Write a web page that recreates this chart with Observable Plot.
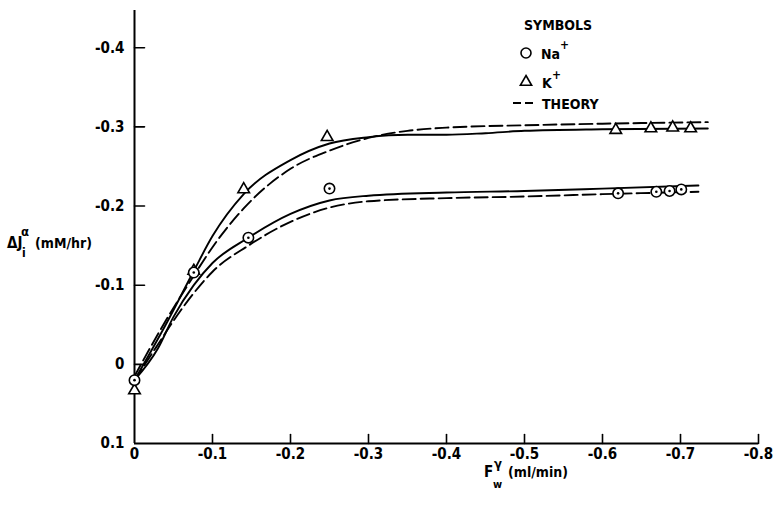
<!DOCTYPE html>
<html><head><meta charset="utf-8">
<script src="https://cdn.jsdelivr.net/npm/d3@7"></script>
<script src="https://cdn.jsdelivr.net/npm/@observablehq/plot@0.6"></script>
<style>
body{margin:0;background:#fff;}
#chart svg{display:block;}
</style></head><body><div id="chart"></div>
<script>
// Tick values
const xTicks = [0, -0.1, -0.2, -0.3, -0.4, -0.5, -0.6, -0.7, -0.8];
const yTicks = [0.1, 0, -0.1, -0.2, -0.3, -0.4];

// Measured points: Na+ (circles)
const naX = [0, -0.076, -0.146, -0.25, -0.62, -0.669, -0.686, -0.701];
const naY = [0.02, -0.116, -0.16, -0.222, -0.216, -0.218, -0.219, -0.221];
// Measured points: K+ (triangles)
const kX = [0, -0.076, -0.14, -0.247, -0.617, -0.662, -0.69, -0.713];
const kY = [0.033, -0.118, -0.221, -0.287, -0.296, -0.298, -0.299, -0.298];

// Fitted (solid) and theory (dashed) curves
const kFitX = [0, -0.04, -0.076, -0.1, -0.14, -0.2, -0.25, -0.3, -0.35, -0.4, -0.45, -0.5, -0.6, -0.735];
const kFitY = [0.02, -0.05, -0.118, -0.162, -0.215, -0.258, -0.279, -0.287, -0.29, -0.29, -0.292, -0.295, -0.297, -0.298];
const kThX = [0, -0.04, -0.076, -0.1, -0.14, -0.2, -0.25, -0.3, -0.35, -0.4, -0.5, -0.6, -0.735];
const kThY = [0.015, -0.055, -0.112, -0.148, -0.197, -0.247, -0.27, -0.286, -0.295, -0.299, -0.302, -0.304, -0.306];
const naFitX = [0, -0.03, -0.05, -0.076, -0.1, -0.146, -0.2, -0.25, -0.3, -0.4, -0.5, -0.6, -0.723];
const naFitY = [0.02, -0.02, -0.06, -0.1, -0.128, -0.16, -0.19, -0.207, -0.213, -0.217, -0.219, -0.222, -0.226];
const naThX = [0, -0.03, -0.05, -0.076, -0.1, -0.146, -0.2, -0.25, -0.3, -0.4, -0.5, -0.6, -0.723];
const naThY = [0.02, -0.025, -0.055, -0.09, -0.117, -0.15, -0.18, -0.198, -0.206, -0.21, -0.212, -0.215, -0.218];

const font = "'DejaVu Sans Condensed', 'Liberation Sans Narrow', sans-serif";
const pts = (xs, ys) => xs.map((x, i) => ({x, y: ys[i]}));
const na = pts(naX, naY), k = pts(kX, kY);
const fmt = d => String(d);
// tick-mark shape: a straight segment of the given length
const seg = {draw(ctx, l) { ctx.moveTo(0, 0); ctx.lineTo(0, -l); }};

const chart = Plot.plot({
  width: 774, height: 505,
  marginLeft: 134, marginRight: 16, marginTop: 10, marginBottom: 62,
  x: {domain: [0, -0.8]},
  y: {domain: [0.1, -0.447]},
  style: {fontFamily: font, fontSize: "15px", fontWeight: "bold", color: "#000", background: "#fff"},
  marks: [
    Plot.axisX(xTicks, {tickSize: 0, tickPadding: 5, tickFormat: fmt, label: null, fontSize: 15, fontWeight: "bold"}),
    Plot.axisY(yTicks, {tickSize: 0, tickPadding: 10, tickFormat: fmt, label: null, fontSize: 15, fontWeight: "bold"}),
    // inward tick marks
    Plot.vector(xTicks.slice(1), {x: d => d, y: 0.1, length: 9, anchor: "start", rotate: 0, shape: seg, stroke: "#000", strokeWidth: 1.6}),
    Plot.vector(yTicks.slice(1), {x: 0, y: d => d, length: 10, anchor: "start", rotate: 90, shape: seg, stroke: "#000", strokeWidth: 1.6}),
    Plot.ruleX([0], {stroke: "#000", strokeWidth: 2}),
    Plot.ruleY([0.1], {stroke: "#000", strokeWidth: 2}),
    Plot.line(pts(kFitX, kFitY), {x: "x", y: "y", curve: "monotone-x", stroke: "#000", strokeWidth: 1.9}),
    Plot.line(pts(kThX, kThY), {x: "x", y: "y", curve: "monotone-x", stroke: "#000", strokeWidth: 1.9, strokeDasharray: "13,5"}),
    Plot.line(pts(naFitX, naFitY), {x: "x", y: "y", curve: "monotone-x", stroke: "#000", strokeWidth: 1.9}),
    Plot.line(pts(naThX, naThY), {x: "x", y: "y", curve: "monotone-x", stroke: "#000", strokeWidth: 1.9, strokeDasharray: "13,5"}),
    Plot.dot(k, {x: "x", y: "y", symbol: "triangle", r: 4.3, stroke: "#000", fill: "#fff", strokeWidth: 1.6}),
    Plot.dot(na, {x: "x", y: "y", symbol: "circle", r: 5.2, stroke: "#000", fill: "#fff", strokeWidth: 1.6}),
    Plot.dot(na, {x: "x", y: "y", r: 1.3, fill: "#000", stroke: null})
  ]
});
document.getElementById("chart").appendChild(chart);

// Axis titles and legend as real SVG text
const svg = d3.select(chart);
function txt(x, y, s, size, anchor = "start") {
  svg.append("text").attr("x", x).attr("y", y).attr("font-family", font).attr("font-weight", "bold")
    .attr("font-size", size).attr("text-anchor", anchor).attr("fill", "#000").text(s);
}
// Y axis title: ΔJ_i^α (mM/hr)
txt(7, 248, "ΔJ", 15);
txt(21, 236, "α", 13);
txt(22, 257, "i", 12);
txt(35, 248, "(mM/hr)", 14);
// X axis title: F_w^γ (ml/min)
txt(484, 477, "F", 15);
txt(494, 468, "γ", 13);
txt(493, 488, "w", 11);
txt(508, 477, "(ml/min)", 14);
// Legend
txt(524, 30, "SYMBOLS", 14);
svg.append("circle").attr("cx", 526).attr("cy", 53).attr("r", 5).attr("fill", "#fff").attr("stroke", "#000").attr("stroke-width", 1.6);
txt(541, 59, "Na", 14);
txt(560, 49, "+", 12);
svg.append("path").attr("d", d3.symbol(d3.symbolTriangle, 55)()).attr("transform", "translate(526,82)")
  .attr("fill", "#fff").attr("stroke", "#000").attr("stroke-width", 1.6);
txt(542, 88, "K", 14);
txt(552, 79, "+", 12);
svg.append("line").attr("x1", 513).attr("x2", 534).attr("y1", 103).attr("y2", 103)
  .attr("stroke", "#000").attr("stroke-width", 1.8).attr("stroke-dasharray", "8,4");
txt(542, 109, "THEORY", 14);
</script></body></html>
